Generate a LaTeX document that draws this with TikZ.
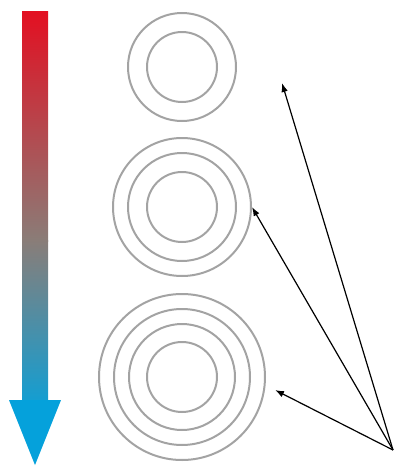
\documentclass[tikz,border=0pt]{standalone}
\usepackage{xcolor}
\usepackage{tikz}
\usetikzlibrary{arrows.meta,positioning}
\definecolor{ringgray}{rgb}{0.64,0.64,0.64}
\definecolor{hotred}{rgb}{0.89,0.06,0.13}
\definecolor{warmred}{rgb}{0.80,0.33,0.21}
\definecolor{midtone}{rgb}{0.54,0.49,0.47}
\definecolor{tealtone}{rgb}{0.24,0.56,0.63}
\definecolor{coldblue}{rgb}{0.08,0.62,0.82}
\definecolor{headblue}{rgb}{0.02,0.63,0.86}
\tikzset{
  ring/.style={circle, draw=ringgray, line width=2pt, inner sep=0pt},
  pointer/.style={-{Latex[length=9pt,width=6.5pt]}, line width=1.2pt, black}
}

\begin{document}
\begin{tikzpicture}[x=1pt, y=-1pt]
        \useasboundingbox (0,0) rectangle (398,466);

        \shade[top color=hotred, middle color=warmred, bottom color=midtone]
          (22,11) rectangle (48,241);
        \shade[top color=midtone, middle color=tealtone, bottom color=coldblue]
          (22,240) rectangle (48,401);
        \fill[headblue] (9,400) -- (61,400) -- (35,465) -- cycle;

        \foreach \r [count=\i] in {35,54}
          \node[ring, minimum size={2*\r pt}] (t\i) at (182,67) {};
        \foreach \r [count=\i] in {35,54,69}
          \node[ring, minimum size={2*\r pt}] (m\i) at (182,207) {};
        \foreach \r [count=\i] in {35,53,68,83}
          \node[ring, minimum size={2*\r pt}] (b\i) at (182,377) {};

        \coordinate (src) at (393,450);
        \coordinate (tipA) at (282,83);
        \coordinate (tipC) at (275,390);

        \draw[pointer] (src) -- (tipA);
        \draw[pointer] (src) -- (m3.east);
        \draw[pointer] (src) -- (tipC);
      \end{tikzpicture}
\end{document}
